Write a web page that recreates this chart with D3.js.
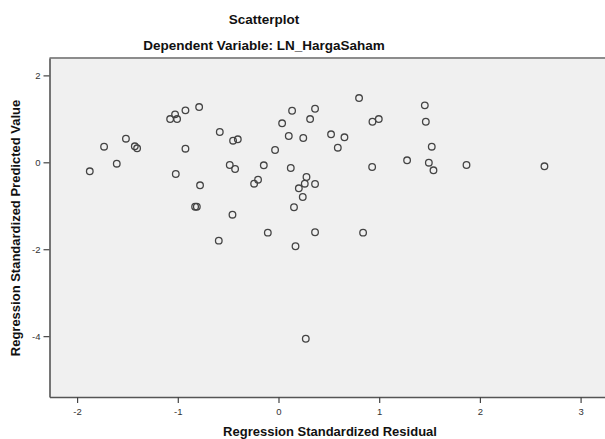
<!DOCTYPE html>
<html>
<head>
<meta charset="utf-8">
<script src="https://cdn.jsdelivr.net/npm/d3@7"></script>
<style>
  body { margin: 0; background: #fff; }
  text { font-family: "Liberation Sans", Arial, sans-serif; }
</style>
</head>
<body>
<script>
// residuals (x) and predicted values (y)
var residual = [-1.874, -1.732, -1.606, -1.515, -1.427, -1.404, -1.076, -1.027, -1.007, -0.924,
  -0.788, -0.924, -1.020, -0.779, -0.828, -0.811, -0.583, -0.451, -0.404, -0.484,
  -0.431, -0.457, -0.593, -0.106, 0.169, 0.363, -0.242, -0.203, -0.146, -0.034,
  0.036, 0.102, 0.135, 0.246, 0.314, 0.363, 0.122, 0.278, 0.261, 0.202,
  0.241, 0.154, 0.363, 0.522, 0.589, 0.800, 0.655, 0.933, 0.996, 1.453,
  1.463, 1.522, 1.277, 1.493, 1.539, 1.867, 2.641, 0.930, 0.840, 0.271];
var predicted = [-0.207, 0.359, -0.032, 0.543, 0.368, 0.322, 0.995, 1.103, 0.995, 1.195,
  1.271, 0.313, -0.269, -0.529, -1.021, -1.021, 0.697, 0.497, 0.529, -0.062,
  -0.154, -1.205, -1.802, -1.618, -1.931, -1.609, -0.492, -0.400, -0.069, 0.283,
  0.897, 0.605, 1.186, 0.559, 0.995, 1.232, -0.131, -0.338, -0.492, -0.598,
  -0.798, -1.034, -0.499, 0.644, 0.336, 1.478, 0.575, 0.933, 0.995, 1.310,
  0.933, 0.359, 0.046, -0.009, -0.184, -0.062, -0.092, -0.108, -1.618, -4.060];
var xTicks = [-2, -1, 0, 1, 2, 3];
var yTicks = [2, 0, -2, -4];

var points = residual.map(function(d, i) { return { x: d, y: predicted[i] }; });

var svg = d3.select('body').append('svg')
  .attr('width', 605)
  .attr('height', 439);

var plotLeft = 49.5, plotRight = 610, plotTop = 58, plotBottom = 397;

var x = d3.scaleLinear().domain([-2.274, 3.292]).range([plotLeft, plotRight]);
var y = d3.scaleLinear().domain([-5.4, 2.4]).range([plotBottom, plotTop]);

// plot background
svg.append('rect')
  .attr('x', plotLeft).attr('y', plotTop)
  .attr('width', plotRight - plotLeft).attr('height', plotBottom - plotTop)
  .style('fill', '#f0f0f0');

svg.append('line')
  .attr('x1', plotLeft).attr('x2', plotRight)
  .attr('y1', plotTop).attr('y2', plotTop)
  .style('stroke', '#8c8c8c')
  .style('stroke-width', 2);

var fmt = function(d) { return String(d); };

var xAxis = svg.append('g')
  .attr('transform', 'translate(0,' + plotBottom + ')')
  .call(d3.axisBottom(x).tickValues(xTicks).tickFormat(fmt).tickSize(6).tickSizeOuter(0));

var yAxis = svg.append('g')
  .attr('transform', 'translate(' + plotLeft + ',0)')
  .call(d3.axisLeft(y).tickValues(yTicks).tickFormat(fmt).tickSize(6).tickSizeOuter(0));

[xAxis, yAxis].forEach(function(a) {
  a.select('.domain').style('stroke', '#555').style('stroke-width', 1.6);
  a.selectAll('.tick line').style('stroke', '#444').style('stroke-width', 1.2);
  a.selectAll('.tick text')
    .style('font-family', '"Liberation Sans", Arial, sans-serif')
    .style('font-size', '9.5px')
    .style('fill', '#333');
});
xAxis.selectAll('.tick text').attr('dy', '0.95em');
yAxis.selectAll('.tick text').attr('x', -9);

svg.append('g')
  .selectAll('circle')
  .data(points)
  .enter().append('circle')
    .attr('cx', function(d) { return x(d.x); })
    .attr('cy', function(d) { return y(d.y); })
    .attr('r', 3.3)
    .style('fill', 'none')
    .style('stroke', '#444')
    .style('stroke-width', 1.3);

// titles
svg.append('text')
  .attr('x', 264).attr('y', 24)
  .attr('text-anchor', 'middle')
  .style('font-weight', 'bold')
  .style('font-size', '13.5px')
  .style('fill', '#111')
  .text('Scatterplot');

svg.append('text')
  .attr('x', 264).attr('y', 50)
  .attr('text-anchor', 'middle')
  .style('font-weight', 'bold')
  .style('font-size', '13.5px')
  .style('fill', '#111')
  .text('Dependent Variable: LN_HargaSaham');

svg.append('text')
  .attr('x', 330).attr('y', 436)
  .attr('text-anchor', 'middle')
  .style('font-weight', 'bold')
  .style('font-size', '13px')
  .style('fill', '#111')
  .text('Regression Standardized Residual');

svg.append('text')
  .attr('transform', 'translate(20,228) rotate(-90)')
  .attr('text-anchor', 'middle')
  .style('font-weight', 'bold')
  .style('font-size', '13px')
  .style('fill', '#111')
  .text('Regression Standardized Predicted Value');
</script>
</body>
</html>
